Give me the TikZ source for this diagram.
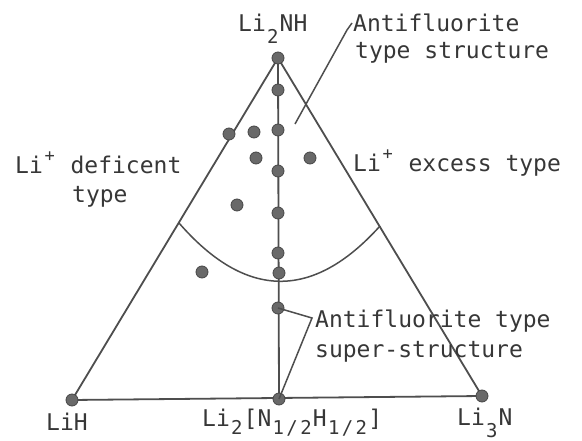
\documentclass[tikz,border=0pt]{standalone}
\usepackage{fontspec}
\newfontfamily\tw{DejaVu Sans Mono}
\definecolor{ln}{RGB}{78,78,78}
\definecolor{dotf}{RGB}{105,105,105}
\definecolor{dotd}{RGB}{70,70,70}
\definecolor{txt}{RGB}{55,55,55}
\newcommand\sbs[1]{\raisebox{-12pt}{\makebox[13.85pt]{\fontsize{19}{19}\selectfont #1}}}
\newcommand\sbb[1]{\raisebox{-9pt}{\makebox[13.85pt]{\fontsize{19}{19}\selectfont #1}}}
\newcommand\sps[1]{\raisebox{12pt}{\makebox[13.85pt]{\fontsize{17}{17}\selectfont #1}}}
\tikzset{
  pt/.style={circle,fill=dotf,draw=dotd,line width=0.8pt,minimum size=12pt,inner sep=0pt},
  edge/.style={draw=ln,line width=1.8pt},
  thin/.style={draw=ln,line width=1.5pt},
  lbl/.style={anchor=base west,inner sep=0pt,text=txt,font=\tw\fontsize{23}{29}\selectfont}
}
\begin{document}
\begin{tikzpicture}[x=1pt,y=-1pt]
\useasboundingbox[fill=white] (0,0) rectangle (582,441);
% vertices
\coordinate (cT) at (278,58);
\coordinate (cL) at (72,400);
\coordinate (cR) at (482,396);
\coordinate (cM) at (279,399);
% triangle and median
\draw[edge] (cT) -- (cL) -- (cR) -- cycle;
\draw[edge] (cT) -- (cM);
% boundary curve
\coordinate (arcL) at (179,223);
\coordinate (arcR) at (380,226);
\draw[thin] (arcL) .. controls (245.7,299.7) and (312.7,300.7) .. (arcR);
% pointers
\coordinate (pa1) at (295,124);
\coordinate (pa2) at (347,30);
\coordinate (pa3) at (352,23);
\draw[thin] (pa1) -- (pa2) -- (pa3);
% dots
\node[pt] (top) at (cT) {};
\node[pt] (lih) at (cL) {};
\node[pt] (li3n) at (cR) {};
\node[pt] (mid) at (cM) {};
\node[pt] (v1) at (278,90) {};
\node[pt] (v2) at (278,130) {};
\node[pt] (v3) at (278,171) {};
\node[pt] (v4) at (278,213) {};
\node[pt] (v5) at (278,253) {};
\node[pt] (v6) at (279,273) {};
\node[pt] (v7) at (278,308) {};
\node[pt] (o1) at (229,134) {};
\node[pt] (o2) at (254,132) {};
\node[pt] (o3) at (256,158) {};
\node[pt] (o4) at (310,158) {};
\node[pt] (o5) at (237,205) {};
\node[pt] (o6) at (202,272) {};
\coordinate (pb) at (312,318);
\draw[thin] (v7.center) -- (pb) -- (mid.center);
% labels
\node[lbl] (tLi2NH) at (238,32) {Li\sbs{2}NH};
\node[lbl] (tAnti1) at (353,32) {Antifluorite};
\node[lbl] (tAnti2) at (355,59) {type structure};
\node[lbl] (tDef1) at (15,174) {Li\sps{+} deficent};
\node[lbl] (tDef2) at (72,203) {type};
\node[lbl] (tExc) at (353,172) {Li\sps{+} excess type};
\node[lbl] (tSup1) at (315,328) {Antifluorite type};
\node[lbl] (tSup2) at (315,357) {super-structure};
\node[lbl] (tLiH) at (46,431) {LiH};
\node[lbl] (tMid) at (202,426) {Li\sbb{2}[N\sbb{1}\sbb{/}\sbb{2}H\sbb{1}\sbb{/}\sbb{2}]};
\node[lbl] (tLi3N) at (457,425) {Li\sbs{3}N};
\end{tikzpicture}
\end{document}
